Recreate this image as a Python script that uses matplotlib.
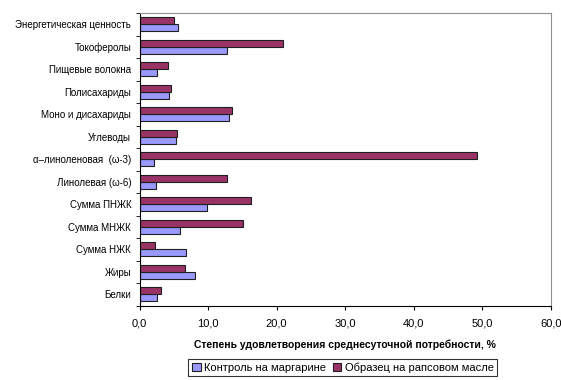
import numpy as np
import matplotlib.pyplot as plt
from matplotlib.ticker import FixedLocator, FuncFormatter

plt.rcParams['font.family'] = ['Liberation Sans', 'DejaVu Sans']

# Категории (снизу вверх)
categories = ['Белки', 'Жиры', 'Сумма НЖК', 'Сумма МНЖК', 'Сумма ПНЖК',
              'Линолевая (ω-6)', 'α–линоленовая  (ω-3)', 'Углеводы',
              'Моно и дисахариды', 'Полисахариды', 'Пищевые волокна',
              'Токоферолы', 'Энергетическая ценность']

control = [2.6, 8.1, 6.8, 5.9, 9.8, 2.4, 2.1, 5.3, 13.0, 4.3, 2.6, 12.7, 5.6]
sample = [3.2, 6.7, 2.3, 15.1, 16.2, 12.8, 49.2, 5.5, 13.5, 4.6, 4.1, 21.0, 5.1]

labels = ['Контроль на маргарине', 'Образец на рапсовом масле']

fig = plt.figure(figsize=(5.61, 3.80), dpi=100)
ax = fig.add_axes([0.2487, 0.1955, 0.733, 0.7703])

y = np.arange(len(categories))
h = 0.31
ax.barh(y - h / 2, control, height=h, color='#9999FF', edgecolor='#202020',
        linewidth=0.8, label=labels[0])
ax.barh(y + h / 2, sample, height=h, color='#993366', edgecolor='#202020',
        linewidth=0.8, label=labels[1])

ax.set_xlim(0, 60)
ax.set_ylim(-0.5, len(categories) - 0.5)
ax.set_xticks(np.arange(0, 61, 10))
ax.xaxis.set_major_formatter(FuncFormatter(lambda v, p: f'{v:.1f}'.replace('.', ',')))
ax.tick_params(axis='x', labelsize=8, length=3, direction='out', pad=6)

ax.set_yticks(y)
ax.set_yticklabels(categories, fontsize=7)
ax.tick_params(axis='y', which='major', length=0, pad=6)
ax.yaxis.set_minor_locator(FixedLocator(np.arange(-0.5, len(categories), 1)))
ax.tick_params(axis='y', which='minor', length=3, direction='out')

for s in ['top', 'right']:
    ax.spines[s].set_color('#909090')
    ax.spines[s].set_linewidth(0.8)
for s in ['left', 'bottom']:
    ax.spines[s].set_color('black')
    ax.spines[s].set_linewidth(0.8)

ax.set_xlabel('Степень удовлетворения среднесуточной потребности, %',
              fontsize=7.5, fontweight='bold', labelpad=8)

leg = fig.legend(loc='center', bbox_to_anchor=(0.611, 0.032), ncol=2,
                 fontsize=8, frameon=True, fancybox=False, edgecolor='black',
                 handlelength=0.8, handleheight=0.8, handletextpad=0.3,
                 columnspacing=0.6, borderpad=0.3, borderaxespad=0)
leg.get_frame().set_linewidth(0.8)

fig.savefig('out.png', dpi=100)
